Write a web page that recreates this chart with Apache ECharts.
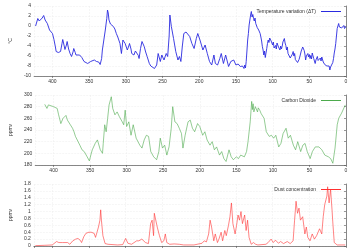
<!DOCTYPE html>
<html><head><meta charset="utf-8">
<script src="https://cdn.jsdelivr.net/npm/echarts@6/dist/echarts.min.js"></script>
<style>html,body{margin:0;padding:0;background:#fff}#c{width:351px;height:251px}</style>
</head><body><div id="c"></div>
<script>
// Temperature variation (ΔT), age in ka BP
const tempAge = [423,420,418,416,414,412,410,407,404,402,400,398,396,395,393,392,390,389,387,386,384,383,381,380,378,376,374,372,371,369,368,366,363,360,357,355,352,350,348,346,343,340,337,335,333,332,330,328,326,325,324,323,321,320,317,315,313,311,308,306,304,302,301,298,296,295,293,292,289,287,285,283,282,280,278,275,273,271,268,266,264,261,258,256,253,251,248,245,243,241,240,238,235,232,229,227,225,223,221,218,216,213,210,207,204,202,199,195,192,189,186,183,180,178,175,172,170,167,164,160,157,153,150,147,144,141,
139,138,137,136,135,134,133,132,131,130,129,128,127,126,125,124,123,122,121,120,119,118,117,116,115,114,113,112,111,110,109,108,107,106,105,104,103,102,101,100,99,98,97,96,95,94,93,92,91,90,89,88,87,86,85,84,83,82,81,80,79,78,77,76,75,74,73,72,71,70,69,68,67,66,65,64,63,62,61,60,59,58,57,56,55,54,53,52,51,50,49,48,47,46,45,44,43,42,41,40,39,38,37,36,35,34,33,32,31,30,29,28,27,26,25,24,23,22,21,20,19,18,17,16,15,14,13,12,11,10,9,8,7,6,5,4,3,2,1,0];
const tempVal = [0.0,1.5,1.0,1.1,1.6,2.1,1.2,0.5,-0.8,-1.2,-1.5,-2.7,-4.2,-5.1,-5.4,-5.3,-5.0,-5.1,-3.5,-2.7,-4.0,-4.7,-3.8,-3.1,-4.6,-5.5,-6.1,-5.2,-4.5,-5.3,-5.8,-6.0,-5.8,-6.3,-7.1,-7.4,-7.5,-7.3,-7.1,-6.7,-6.8,-7.1,-7.2,-7.7,-6.5,-4.8,-2.8,-0.8,1.5,3.2,2.6,1.2,0.4,0.0,-0.1,-0.6,-1.5,-2.2,-3.5,-5.5,-2.8,-3.2,-3.5,-4.8,-4.0,-3.5,-4.6,-5.5,-5.8,-5.0,-4.8,-5.9,-6.5,-4.5,-3.1,-4.1,-5.2,-6.1,-7.5,-8.0,-8.3,-8.5,-7.8,-5.5,-7.1,-5.8,-6.8,-5.5,-6.1,-2.0,2.2,-0.1,-2.5,-5.1,-6.8,-6.1,-7.1,-4.0,-1.5,-1.2,-0.9,-2.1,-3.5,-4.5,-2.5,-1.5,-2.8,-4.8,-3.8,-5.5,-7.1,-7.8,-5.8,-7.5,-7.8,-6.5,-5.5,-7.5,-5.8,-8.1,-7.1,-6.8,-7.8,-7.6,-8.1,-8.0,
-8.5,-7.8,-8.4,-7.1,-5.0,-2.8,-1.5,0.2,1.2,2.2,2.9,1.8,2.3,1.5,1.0,1.6,0.5,0.9,-0.3,-0.1,-0.8,-0.4,-1.5,-2.2,-3.0,-4.1,-4.8,-5.8,-5.0,-6.3,-6.1,-4.5,-3.5,-2.8,-3.3,-2.4,-2.1,-3.0,-2.9,-3.8,-3.2,-4.4,-4.8,-3.9,-4.6,-3.4,-3.5,-4.2,-3.8,-4.8,-4.0,-4.6,-4.1,-3.2,-3.6,-2.5,-3.4,-3.9,-4.8,-4.2,-5.5,-5.8,-5.2,-6.4,-6.8,-6.0,-5.6,-5.1,-6.0,-5.5,-6.7,-7.1,-6.5,-7.3,-7.5,-6.7,-6.2,-5.8,-5.0,-4.6,-4.2,-3.8,-4.9,-5.6,-6.8,-6.0,-6.4,-5.5,-6.2,-5.7,-6.5,-5.9,-6.6,-5.4,-5.8,-6.5,-6.9,-7.5,-6.8,-6.5,-6.1,-6.9,-6.6,-7.1,-6.4,-7.0,-6.2,-6.5,-7.2,-7.0,-7.7,-8.1,-7.4,-8.0,-7.8,-8.3,-8.0,-8.8,-8.2,-8.6,-8.1,-7.3,-6.5,-5.4,-4.6,-3.5,-2.0,-0.5,-0.3,0.5,-0.2,-0.5,0.2,-0.4,-0.2,-0.6,0.1,-0.5,-0.2,-0.1];

// Carbon dioxide (ppmv)
const co2Age = [412,409,407,400,395,393,390,387,383,381,377,374,372,370,368,364,361,358,354,351,349,347,343,340,338,336,333,332,330,328,326,324,321,319,316,313,310,306,304,302,300,297,294,291,287,282,279,276,273,270,267,263,259,256,254,251,248,245,242,239,237,234,231,228,225,223,220,216,213,210,207,203,200,196,193,190,186,183,180,177,173,170,167,164,160,157,154,150,147,144,139,136,134,131,129,128,127,126,124,123,121,120,118,116,114,112,109,105,102,99,96,92,89,86,82,79,76,72,69,66,62,59,56,53,49,46,42,37,33,29,24,21,18,15,12,10,8,6,4,1];
const co2Val = [284,277,283,280,277,266,251,260,265,257,249,243,237,229,226,214,206,203,194,187,197,206,217,223,220,206,200,217,249,237,260,283,297,277,266,271,263,254,249,274,246,254,231,249,226,214,209,223,231,229,203,194,189,203,226,209,214,197,211,243,280,254,251,243,234,209,231,254,257,243,237,251,246,231,237,223,214,220,206,211,197,203,191,186,206,194,189,194,191,197,194,203,220,254,289,275,285,271,280,277,271,278,274,268,266,260,237,229,231,226,231,211,217,234,243,226,231,214,206,220,203,214,217,203,191,203,211,211,206,197,194,191,183,209,249,260,257,269,271,283];

// Dust concentration (ppm)
const dustAge = [423,410,400,398,394,391,386,379,376,372,368,365,362,360,357,354,350,347,343,341,339,337,335,334,333,331,328,324,311,304,300,297,292,285,282,278,273,269,266,264,262,261,259,257,254,251,248,246,244,240,234,227,225,221,207,196,193,190,187,185,183,180,178,175,173,170,168,165,163,160,158,156,154,151,149,147,145,143,141,138,136,134,132,129,126,123,120,109,106,102,99,96,92,89,85,80,76,72,70,68,66,64,62,59,56,54,52,49,46,43,40,36,33,31,29,26,25,23,21,19,18,16,12,1];
const dustVal = [0.01,0.02,0.03,0.08,0.13,0.1,0.1,0.1,0.05,0.15,0.2,0.22,0.17,0.1,0.27,0.37,0.4,0.4,0.37,0.25,0.4,0.55,0.75,1.05,0.75,0.3,0.07,0.05,0.03,0.04,0.22,0.08,0.05,0.15,0.15,0.2,0.1,0.07,0.65,0.75,0.3,0.95,1.0,0.55,0.3,0.1,0.15,0.35,0.1,0.05,0.06,0.05,0.1,0.03,0.03,0.08,0.15,0.12,0.35,0.75,0.55,0.15,0.35,0.1,0.2,0.4,0.15,0.45,0.3,0.6,0.85,1.25,0.65,0.35,0.6,0.9,0.75,1.0,0.65,0.9,0.45,0.75,0.25,0.05,0.1,0.05,0.03,0.05,0.1,0.2,0.1,0.17,0.08,0.13,0.07,0.13,0.07,0.15,0.75,1.3,0.95,1.1,0.75,0.85,0.35,0.55,0.25,0.15,0.35,0.2,0.3,0.5,0.35,0.85,1.2,1.45,1.72,1.25,1.65,1.05,0.7,0.1,0.03,0.03];

const xTicks = {min: 0, max: 425, interval: 50};
const tempTicks = {min: -10, max: 4, interval: 2};
const co2Ticks = {min: 180, max: 300, interval: 20};
const dustTicks = {min: 0, max: 1.8, interval: 0.2};

const zip = (a, b) => a.map((v, i) => [v, b[i]]);
const FONT = 'Liberation Sans';
const txt = {fontFamily: FONT, fontSize: 5, color: '#333'};

function xAxis(gi, showLabels) {
  return {
    type: 'value', gridIndex: gi, min: xTicks.min, max: xTicks.max, interval: xTicks.interval, inverse: true,
    axisLine: {show: true, onZero: false, lineStyle: {color: '#555', width: 0.7}},
    axisTick: {show: true, length: 2, lineStyle: {color: '#555', width: 0.6}},
    axisLabel: Object.assign({show: showLabels, margin: 3, showMaxLabel: false}, txt),
    splitLine: {show: true, lineStyle: {color: '#ececec', width: 0.5, type: 'dashed'}}
  };
}
function yAxis(gi, t, name, gap) {
  return {
    type: 'value', gridIndex: gi, min: t.min, max: t.max, interval: t.interval,
    name: name, nameLocation: 'middle', nameGap: gap, nameRotate: 90,
    nameTextStyle: txt,
    axisLine: {show: true, lineStyle: {color: '#555', width: 0.7}},
    axisTick: {show: true, length: 2, lineStyle: {color: '#555', width: 0.6}},
    axisLabel: Object.assign({margin: 3, formatter: v => String(+v.toFixed(1))}, txt),
    splitLine: {show: true, lineStyle: {color: '#ececec', width: 0.5, type: 'dashed'}}
  };
}
function legend(name, top) {
  return {
    data: [name], right: 10, top: top, align: 'right', icon: 'rect', itemWidth: 20, itemHeight: 1,
    itemGap: 4, padding: 0, textStyle: Object.assign({}, txt, {padding: [0, 0, 0, 0]})
  };
}

const chart = echarts.init(document.getElementById('c'), null, {renderer: 'canvas'});
chart.setOption({
  backgroundColor: '#fff',
  animation: false,
  grid: [
    {left: 22, right: 5, top: 6, height: 70},
    {left: 22, right: 5, top: 95, height: 70},
    {left: 22, right: 5, top: 184, height: 62}
  ],
  xAxis: [xAxis(0, true), xAxis(1, true), xAxis(2, false)],
  yAxis: [yAxis(0, tempTicks, '°C', 13), yAxis(1, co2Ticks, 'ppmv', 15), yAxis(2, dustTicks, 'ppmv', 15)],
  legend: [legend('Temperature variation (ΔT)', 9), legend('Carbon Dioxide', 98), legend('Dust concentration', 187)],
  series: [
    {name: 'Temperature variation (ΔT)', type: 'line', xAxisIndex: 0, yAxisIndex: 0, data: zip(tempAge, tempVal),
     symbol: 'none', color: '#2a2ae0', lineStyle: {width: 0.9, color: '#2a2ae0'}},
    {name: 'Carbon Dioxide', type: 'line', xAxisIndex: 1, yAxisIndex: 1, data: zip(co2Age, co2Val),
     symbol: 'none', color: '#4caa4c', lineStyle: {width: 0.6, color: '#4caa4c'}},
    {name: 'Dust concentration', type: 'line', xAxisIndex: 2, yAxisIndex: 2, data: zip(dustAge, dustVal),
     symbol: 'none', color: '#ff3030', lineStyle: {width: 0.6, color: '#ff3030'}}
  ]
});
</script></body></html>
